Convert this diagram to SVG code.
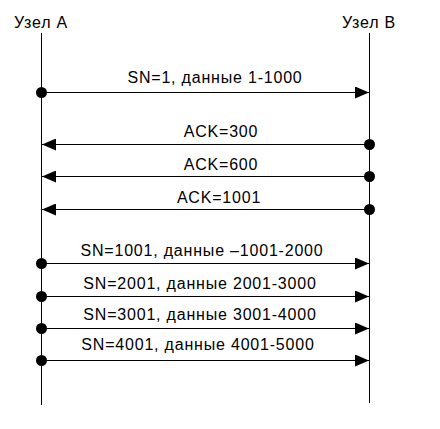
<svg xmlns="http://www.w3.org/2000/svg" width="440" height="429" viewBox="0 0 440 429">
<style>
.t{font-family:"Liberation Sans",Arial,sans-serif;font-size:16px;letter-spacing:0.8px;fill:#000;text-anchor:middle}
.l{stroke:#000;stroke-width:1;fill:none}
.d{fill:#000}
</style>
<defs>
<marker id="ah" markerWidth="14" markerHeight="12" refX="14" refY="6" orient="auto" markerUnits="userSpaceOnUse">
<path d="M0,0 L14,6 L0,12 Z" fill="#000"/>
</marker>
</defs>
<rect width="440" height="429" fill="#fff"/>
<g id="nodeA">
<text class="t" x="41" y="28">Узел А</text>
<line class="l" x1="41.5" y1="33" x2="41.5" y2="405"/>
</g>
<g id="nodeB">
<text class="t" x="369" y="28">Узел В</text>
<line class="l" x1="369.5" y1="33" x2="369.5" y2="403"/>
</g>
<g id="connectors">
<line class="l" x1="41.5" y1="92.5" x2="369" y2="92.5" marker-end="url(#ah)"/>
<circle class="d" cx="41.5" cy="92.5" r="5.5"/>
<text class="t" x="215" y="83">SN=1, данные 1-1000</text>

<line class="l" x1="369.5" y1="144.5" x2="42" y2="144.5" marker-end="url(#ah)"/>
<circle class="d" cx="369.5" cy="144.5" r="5.5"/>
<text class="t" x="221" y="137">ACK=300</text>

<line class="l" x1="369.5" y1="176.5" x2="42" y2="176.5" marker-end="url(#ah)"/>
<circle class="d" cx="369.5" cy="176.5" r="5.5"/>
<text class="t" x="221" y="170">ACK=600</text>

<line class="l" x1="369.5" y1="209.5" x2="42" y2="209.5" marker-end="url(#ah)"/>
<circle class="d" cx="369.5" cy="209.5" r="5.5"/>
<text class="t" x="219" y="203">ACK=1001</text>

<line class="l" x1="41.5" y1="263.5" x2="369" y2="263.5" marker-end="url(#ah)"/>
<circle class="d" cx="41.5" cy="263.5" r="5.5"/>
<text class="t" x="202" y="256">SN=1001, данные –1001-2000</text>

<line class="l" x1="41.5" y1="296.5" x2="369" y2="296.5" marker-end="url(#ah)"/>
<circle class="d" cx="41.5" cy="296.5" r="5.5"/>
<text class="t" x="200" y="289">SN=2001, данные 2001-3000</text>

<line class="l" x1="41.5" y1="328.5" x2="369" y2="328.5" marker-end="url(#ah)"/>
<circle class="d" cx="41.5" cy="328.5" r="5.5"/>
<text class="t" x="200" y="320">SN=3001, данные 3001-4000</text>

<line class="l" x1="41.5" y1="360.5" x2="369" y2="360.5" marker-end="url(#ah)"/>
<circle class="d" cx="41.5" cy="360.5" r="5.5"/>
<text class="t" x="198" y="350">SN=4001, данные 4001-5000</text>
</g>
</svg>
